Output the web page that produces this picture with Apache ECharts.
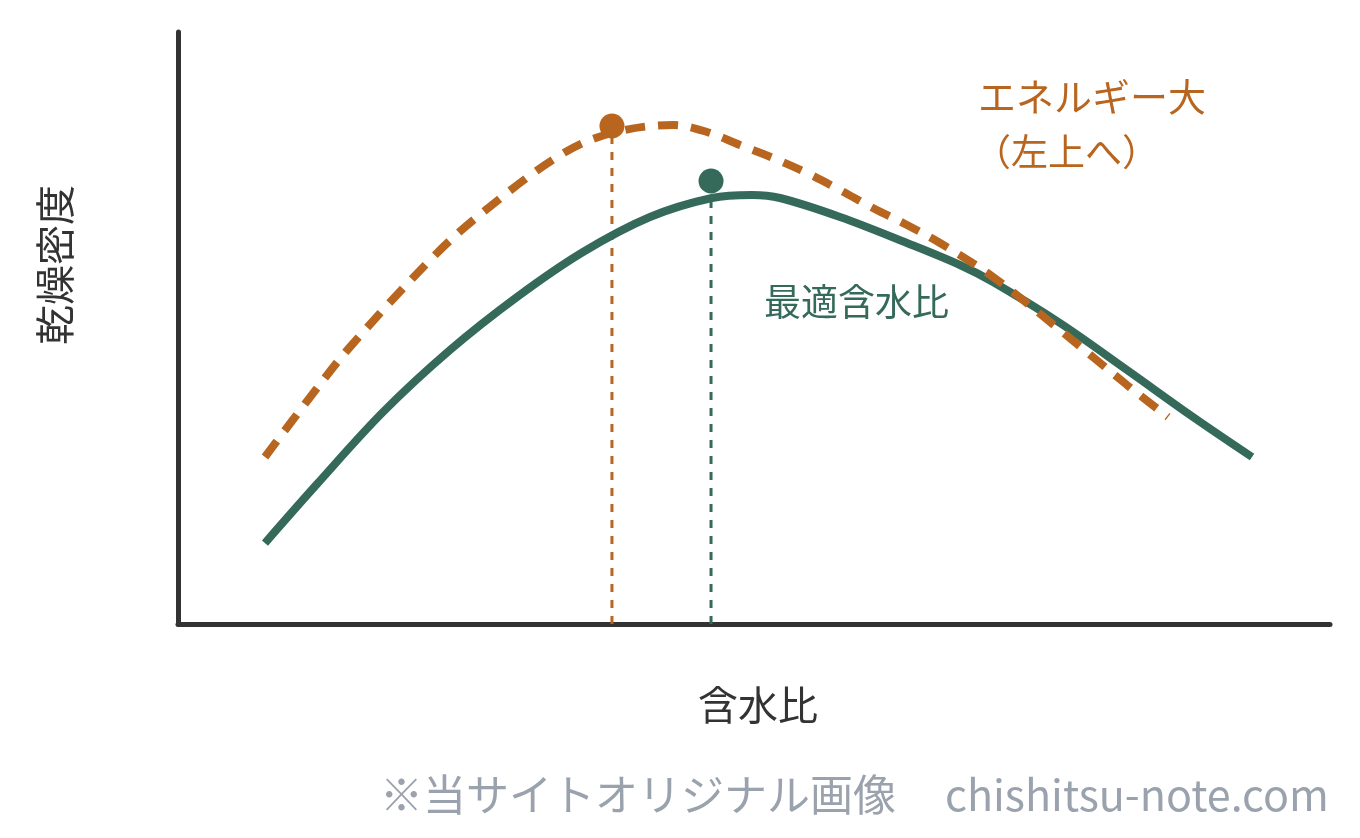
<!DOCTYPE html>
<html>
<head>
<meta charset="utf-8">
<script src="https://cdn.jsdelivr.net/npm/echarts@6/dist/echarts.min.js"></script>
<style>
html,body{margin:0;padding:0;background:#fff;}
#chart{width:1360px;height:838px;}
</style>
</head>
<body>
<div id="chart"></div>
<script>
// Standard compaction curve (solid green): [water content, dry density] in relative units 0-100
const standardCurve = [
  [7.55,13.68],[12.07,23.65],[17.80,35.81],[23.61,46.28],[29.43,55.24],[35.16,62.84],
  [40.97,68.75],[46.35,71.96],[49.83,72.47],[52.26,71.96],[57.47,68.75],[63.28,64.36],
  [67.88,60.64],[70.75,57.77],[76.56,50.84],[82.38,42.91],[88.11,34.97],[93.23,28.21]
];
// High-energy compaction curve (dashed orange)
const highEnergyCurve = [
  [7.55,28.21],[11.28,37.84],[14.93,46.79],[22.14,61.99],[26.48,69.59],[33.33,79.39],
  [37.67,82.94],[42.97,84.29],[45.92,83.11],[48.78,80.91],[51.65,78.72],[54.60,76.18],
  [57.47,73.31],[60.33,70.27],[63.28,67.40],[66.15,64.36],[70.75,58.61],[76.56,49.66],
  [82.38,40.37],[85.94,34.97]
];
// Peak (optimum) points
const optimumHigh = [37.67, 84.12];
const optimumStd = [46.27, 74.83];

const xAxisName = '含水比';
const yAxisName = '乾燥密度';
const labelStd = '最適含水比';
const labelHigh1 = 'エネルギー大';
const labelHigh2 = '（左上へ）';
const watermark1 = '※当サイトオリジナル画像';
const watermark2 = 'chishitsu-note.com';

const ORANGE = '#b8661f';
const GREEN = '#356a5a';
const FONT = '"Noto Sans CJK JP", "Noto Sans", sans-serif';

const chart = echarts.init(document.getElementById('chart'));
chart.setOption({
  backgroundColor: '#ffffff',
  animation: false,
  grid: {left: 178, right: 30, top: 32, bottom: 214},
  xAxis: {
    type: 'value', min: 0, max: 100,
    axisLine: {show: true, onZero: false, lineStyle: {color: '#333333', width: 5}},
    axisTick: {show: false}, axisLabel: {show: false}, splitLine: {show: false}
  },
  yAxis: {
    type: 'value', min: 0, max: 100,
    axisLine: {show: true, onZero: false, lineStyle: {color: '#333333', width: 5}},
    axisTick: {show: false}, axisLabel: {show: false}, splitLine: {show: false}
  },
  series: [
    {
      type: 'line', data: [[optimumHigh[0], 0], [optimumHigh[0], optimumHigh[1] - 2]],
      symbol: 'none', lineStyle: {color: ORANGE, width: 3, type: [8, 8]}, z: 1
    },
    {
      type: 'line', data: [[optimumStd[0], 0], [optimumStd[0], optimumStd[1] - 2]],
      symbol: 'none', lineStyle: {color: GREEN, width: 3, type: [8, 8]}, z: 1
    },
    {
      type: 'line', data: standardCurve, smooth: 0.35, symbol: 'none',
      lineStyle: {color: GREEN, width: 8, cap: 'butt'}, z: 2
    },
    {
      type: 'line', data: highEnergyCurve, smooth: 0.35, symbol: 'none',
      lineStyle: {color: ORANGE, width: 8, type: [20, 13], cap: 'butt'}, z: 3
    },
    {
      type: 'scatter', data: [optimumHigh], symbolSize: 25,
      itemStyle: {color: ORANGE, opacity: 1}, z: 4
    },
    {
      type: 'scatter', data: [optimumStd], symbolSize: 25,
      itemStyle: {color: GREEN, opacity: 1}, z: 4
    }
  ],
  graphic: [
    {type: 'text', x: 698, y: 705, style: {text: xAxisName, font: '40px ' + FONT, fill: '#333333', verticalAlign: 'middle'}},
    {type: 'text', x: 55, y: 265, rotation: Math.PI / 2,
      style: {text: yAxisName, font: '40px ' + FONT, fill: '#333333', align: 'center', verticalAlign: 'middle'}},
    {type: 'text', x: 764, y: 302, style: {text: labelStd, font: '37px ' + FONT, fill: GREEN, verticalAlign: 'middle'}},
    {type: 'text', x: 978, y: 97, style: {text: labelHigh1, font: '38px ' + FONT, fill: ORANGE, verticalAlign: 'middle'}},
    {type: 'text', x: 974, y: 152, style: {text: labelHigh2, font: '37px ' + FONT, fill: ORANGE, verticalAlign: 'middle'}},
    {type: 'text', x: 380, y: 795, style: {text: watermark1, font: '43px ' + FONT, fill: '#9aa2ad', verticalAlign: 'middle'}},
    {type: 'text', x: 945, y: 795, style: {text: watermark2, font: '43px ' + FONT, fill: '#9aa2ad', verticalAlign: 'middle'}}
  ]
});
</script>
</body>
</html>
